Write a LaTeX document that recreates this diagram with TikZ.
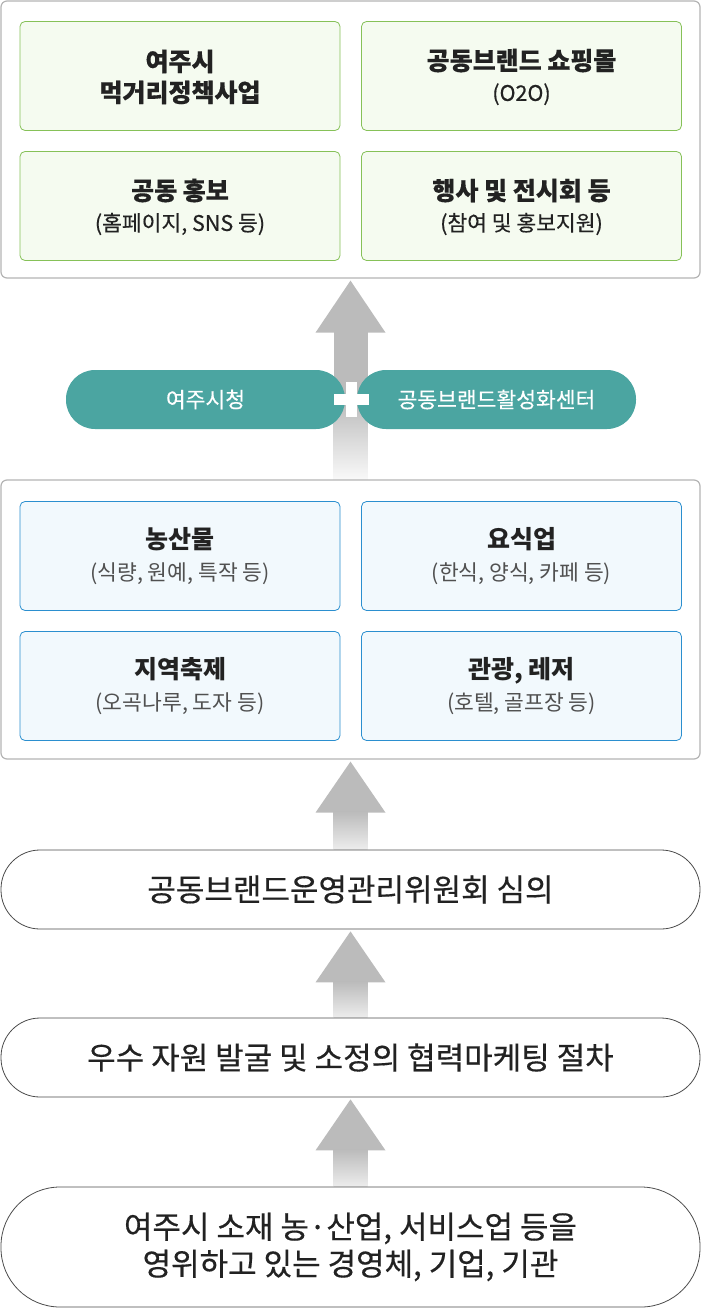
\documentclass[tikz,border=0pt]{standalone}
\usepackage{fontspec}
\setmainfont{Noto Sans CJK KR}
\newfontfamily\mediumface{Noto Sans CJK KR}[FakeBold=0.4]
\usetikzlibrary{calc,backgrounds}

\definecolor{panelgray}{HTML}{B4B4B4}
\definecolor{leafgreen}{HTML}{86C158}
\definecolor{leaffill}{HTML}{F5FBF0}
\definecolor{skyblue}{HTML}{2B8FCF}
\definecolor{skyfill}{HTML}{F2F9FD}
\definecolor{tealpill}{HTML}{4BA5A1}
\definecolor{arrowgray}{HTML}{BBBBBB}
\definecolor{arrowfade}{HTML}{EDEDED}
\definecolor{inkdark}{HTML}{222222}
\definecolor{inksoft}{HTML}{505050}

\begin{document}
\begin{tikzpicture}[x=1pt, y=-1pt,
    panel/.style={draw=panelgray, line width=1.2pt, fill=white, rounded corners=6pt,
        minimum width=699pt, inner sep=0pt},
    leafbox/.style={draw=leafgreen, line width=0.8pt, fill=leaffill, rounded corners=5pt,
        minimum width=320pt, minimum height=109pt, align=center, text=inkdark, text height=54pt,
        font=\fontsize{21.5}{31}\mediumface},
    skybox/.style={draw=skyblue, line width=0.8pt, fill=skyfill, rounded corners=5pt,
        minimum width=320pt, minimum height=109pt, align=center, text=inksoft,
        font=\fontsize{21.5}{32}\selectfont},
    pill/.style={fill=tealpill, rounded corners=29pt, minimum width=279pt, minimum height=59pt,
        text=white, font=\fontsize{21.5}{24}\mediumface},
    stage/.style={draw=black!70, line width=0.8pt, fill=white, rounded corners=39pt,
        minimum width=699pt, minimum height=79pt, align=center, text=inkdark,
        font=\fontsize{31}{37}\mediumface}]

    \useasboundingbox (0,0) rectangle (702,1308);

    % 성과 (상단)
    \node[panel, minimum height=277pt] (outcome) at (350.5,139.5) {};
    \node[leafbox] (food) at (180,76) {{\fontsize{25}{31}\selectfont\bfseries 여주시}\\{\fontsize{25}{31}\selectfont\bfseries 먹거리정책사업}};
    \node[leafbox] (mall) at (521.5,76) {{\fontsize{25}{31}\selectfont\bfseries 공동브랜드 쇼핑몰}\\(O2O)};
    \node[leafbox] (promo) at (180,206) {{\fontsize{25}{31}\selectfont\bfseries 공동 홍보}\\(홈페이지, SNS 등)};
    \node[leafbox] (expo) at (521.5,206) {{\fontsize{25}{31}\selectfont\bfseries 행사 및 전시회 등}\\(참여 및 홍보지원)};

    % 운영 주체
    \node[pill] (city) at (205.5,399.5) {여주시청};
    \node[pill] (center) at (496.5,399.5) {공동브랜드활성화센터};
    \coordinate (plus) at ($(city.east)!0.5!(center.west)$);
    \fill[white] ([xshift=-17.5pt,yshift=-5.5pt]plus) rectangle ([xshift=17.5pt,yshift=5.5pt]plus);
    \fill[white] ([xshift=-5.5pt,yshift=-17.5pt]plus) rectangle ([xshift=5.5pt,yshift=17.5pt]plus);

    % 대상 분야 (중단)
    \node[panel, minimum height=279pt] (support) at (350.5,619.5) {};
    \node[skybox] (farm) at (180,556) {{\fontsize{25}{32}\selectfont\bfseries\color{inkdark}농산물}\\(식량, 원예, 특작 등)};
    \node[skybox] (dine) at (521.5,556) {{\fontsize{25}{32}\selectfont\bfseries\color{inkdark}요식업}\\(한식, 양식, 카페 등)};
    \node[skybox] (fest) at (180,686) {{\fontsize{25}{32}\selectfont\bfseries\color{inkdark}지역축제}\\(오곡나루, 도자 등)};
    \node[skybox] (tour) at (521.5,686) {{\fontsize{25}{32}\selectfont\bfseries\color{inkdark}관광, 레저}\\(호텔, 골프장 등)};

    % 절차 (하단)
    \node[stage] (review) at (350.5,889.5) {공동브랜드운영관리위원회 심의};
    \node[stage] (scout) at (350.5,1057.5) {우수 자원 발굴 및 소정의 협력마케팅 절차};
    \node[stage, minimum height=120pt, rounded corners=59pt] (members) at (350.5,1247) {여주시 소재 농·산업, 서비스업 등을\\영위하고 있는 경영체, 기업, 기관};

    % 화살표
    \begin{scope}[on background layer]
        \fill[arrowgray] ($(outcome.south)+(0,2)$) -- ++(35,52) -- ++(-70,0) -- cycle;
        \fill[arrowgray] ($(outcome.south)+(-17,53)$) rectangle ($(outcome.south)+(17,122)$);
        \shade[top color=arrowgray, bottom color=white] ($(outcome.south)+(-17,121)$) rectangle ($(support.north)+(17,8)$);
        \foreach \u/\l in {support/review, review/scout, scout/members} {
            \fill[arrowgray] ($(\u.south)+(0,2)$) -- ++(35,51) -- ++(-70,0) -- cycle;
            \shade[top color=arrowgray, bottom color=arrowfade] ($(\u.south)+(-17,52)$) rectangle ($(\l.north)+(17,0)$);
        }
    \end{scope}
\end{tikzpicture}
\end{document}
